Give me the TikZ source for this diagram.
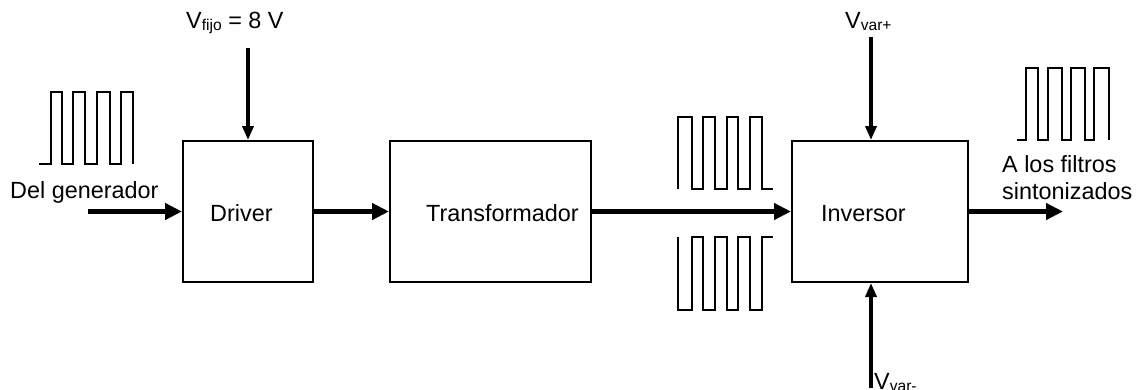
\documentclass[tikz,border=0pt]{standalone}
\usepackage{fontspec}
\setmainfont{Liberation Sans}
\usetikzlibrary{arrows.meta}
% smaller, slightly lowered text for subscripted labels
\newcommand\subtxt[1]{\raisebox{-2.5bp}{\fontsize{15.6bp}{18bp}\selectfont #1}}
\begin{document}
\begin{tikzpicture}[x=1bp,y=-1bp,
  blk/.style={draw,line width=2bp,inner sep=0pt},
  lbl/.style={inner sep=0pt,anchor=base west,font=\fontsize{23.4bp}{26.5bp}\selectfont},
  sig/.style={line width=5.5bp,-{Triangle[length=17bp,width=16bp]}},
  feed/.style={line width=3.5bp,-{Triangle[length=14bp,width=11bp]}},
  wave/.style={line width=1.5bp,line join=miter}]
\useasboundingbox (0,0) rectangle (1145,389);

% blocks
\node[blk,minimum width=130bp,minimum height=141bp] (drv) at (248,211.5) {};
\node[blk,minimum width=201bp,minimum height=141bp] (trf) at (490.5,211.5) {};
\node[blk,minimum width=176bp,minimum height=141bp] (inv) at (880,211.5) {};

% block captions
\node[lbl] (tdrv) at (210,221) {Driver};
\node[lbl] (ttrf) at (426,221) {Transformador};
\node[lbl] (tinv) at (821,221) {Inversor};

% signal path
\coordinate (src) at (88,211.5);
\coordinate (dst) at (1063,211.5);
\draw[sig] (src) -- (drv.west);
\draw[sig] (drv.east) -- (trf.west);
\draw[sig] (trf.east) -- (inv.west);
\draw[sig] (inv.east) -- (dst);

% supplies
\coordinate (vf) at (248,48);
\coordinate (vp) at (871,37);
\coordinate (vm) at (871,388);
\draw[feed] (vf) -- (drv.north);
\draw[feed] (vp) -- (vp |- inv.north);
\draw[feed] (vm) -- (vm |- inv.south);

% outer labels (the two-line label sits on the baseline of its last line)
\node[lbl] (lgen) at (10,198) {Del generador};
\node[lbl,align=left] (lout) at (1002,199) {A los filtros\\sintonizados};
\node[lbl] (lfijo) at (186,28) {V\subtxt{fijo} = 8 V};
\node[lbl] (lvp) at (845,28) {V\subtxt{var+}};
\node[lbl] (lvm) at (874,389) {V\subtxt{var-}};

% input pulse train
\draw[wave] (39,164) -- (51,164) -- (51,92) -- (62,92) -- (62,164) -- (73,164)
  -- (73,92) -- (85,92) -- (85,164) -- (97,164) -- (97,92) -- (110,92)
  -- (110,164) -- (121,164) -- (121,92) -- (133,92) -- (133,164);

% transformer outputs: upper and inverted lower train
\draw[wave] (678,189) -- (678,117) -- (692,117) -- (692,189) -- (703,189)
  -- (703,117) -- (715,117) -- (715,189) -- (727,189) -- (727,117) -- (738,117)
  -- (738,189) -- (750,189) -- (750,117) -- (762,117) -- (762,189) -- (773,189);
\draw[wave] (678,237) -- (678,310) -- (692,310) -- (692,237) -- (703,237)
  -- (703,310) -- (715,310) -- (715,237) -- (727,237) -- (727,310) -- (738,310)
  -- (738,237) -- (750,237) -- (750,310) -- (762,310) -- (762,237) -- (773,237);

% output pulse train
\draw[wave] (1017,140) -- (1026,140) -- (1026,68) -- (1038,68) -- (1038,140)
  -- (1048,140) -- (1048,68) -- (1062,68) -- (1062,140) -- (1071,140)
  -- (1071,68) -- (1085,68) -- (1085,140) -- (1094,140) -- (1094,68)
  -- (1109,68) -- (1109,140);
\end{tikzpicture}
\end{document}
